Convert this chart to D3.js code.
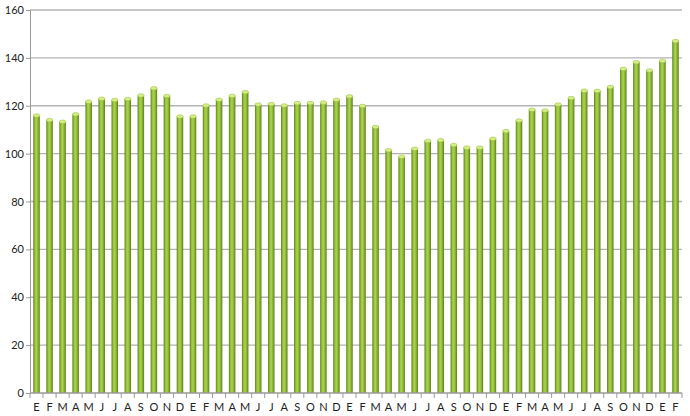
<!DOCTYPE html>
<html><head><meta charset="utf-8">
<script src="https://cdn.jsdelivr.net/npm/d3@7/dist/d3.min.js"></script>
<style>body{margin:0;background:#fff}svg{display:block}</style>
</head><body><svg id="c" width="690" height="416"></svg>
<script>
const months = ["E","F","M","A","M","J","J","A","S","O","N","D","E","F","M","A","M","J","J","A","S","O","N","D","E","F","M","A","M","J","J","A","S","O","N","D","E","F","M","A","M","J","J","A","S","O","N","D","E","F"];
const values = [115.9,114.0,113.3,116.4,121.7,122.9,122.4,122.8,124.3,127.3,124.1,115.5,115.5,120.1,122.5,124.1,125.7,120.5,120.7,120.1,121.1,121.1,121.3,122.5,123.9,119.9,111.1,101.4,98.7,102.0,105.3,105.6,103.6,102.5,102.5,106.2,109.4,113.8,118.3,118.0,120.5,123.2,126.3,126.2,127.8,135.4,138.2,134.7,138.7,147.0];
const yTicks = [0,20,40,60,80,100,120,140,160];

const svg = d3.select("#c");
const m = {l:30, r:8, t:10, b:23};
const W = 690, H = 416;
const x = d3.scaleBand().domain(d3.range(values.length)).range([m.l, W - m.r]).paddingInner(0.5).paddingOuter(0.25);
const y = d3.scaleLinear().domain([0,160]).range([H - m.b, m.t]);

const defs = svg.append("defs");
const g = defs.append("linearGradient").attr("id","bar").attr("x1","0").attr("x2","1").attr("y1","0").attr("y2","0");
[[0,"#5e8219"],[0.3,"#9cc640"],[0.5,"#a9d24d"],[0.75,"#86b031"],[1,"#5a7d18"]].forEach(s=>g.append("stop").attr("offset",s[0]).attr("stop-color",s[1]));

// gridlines
svg.append("g").selectAll("line").data(yTicks.slice(1)).join("line")
  .attr("x1", m.l).attr("x2", W - m.r).attr("y1", d=>y(d)).attr("y2", d=>y(d))
  .attr("stroke","#b3b3b3").attr("stroke-width",1.3);

// y axis
const ya = svg.append("g").attr("transform",`translate(${m.l},0)`).call(d3.axisLeft(y).tickValues(yTicks).tickSize(4).tickPadding(2));
ya.select(".domain").attr("stroke","#9a9a9a");
ya.selectAll(".tick line").attr("stroke","#9a9a9a");
ya.selectAll("text").attr("font-family","Lato, 'Open Sans', sans-serif").attr("font-size",11).attr("fill","#222");

// bars
const bw = x.bandwidth();
svg.append("g").selectAll("rect").data(values).join("rect")
  .attr("x",(d,i)=>x(i)).attr("width",bw)
  .attr("y",d=>y(d)).attr("height",d=>y(0)-y(d))
  .attr("fill","url(#bar)");
svg.append("g").selectAll("ellipse").data(values).join("ellipse")
  .attr("cx",(d,i)=>x(i)+bw/2).attr("cy",d=>y(d)).attr("rx",bw/2).attr("ry",1.8)
  .attr("fill","#d6ee82").attr("stroke","#8fb83a").attr("stroke-width",0.5);

// x axis
const xs = d3.scaleBand().domain(d3.range(values.length)).range([m.l, W - m.r]);
const xa = svg.append("g").attr("transform",`translate(0,${y(0)})`);
xa.append("line").attr("x1",m.l).attr("x2",W-m.r).attr("stroke","#9a9a9a").attr("stroke-width",1.3);
xa.selectAll("line.tk").data(d3.range(values.length+1)).join("line").attr("class","tk")
  .attr("x1",i=>m.l + i*xs.step()).attr("x2",i=>m.l + i*xs.step()).attr("y1",0).attr("y2",5).attr("stroke","#9a9a9a");
xa.selectAll("text").data(months).join("text")
  .attr("x",(d,i)=>xs(i)+xs.bandwidth()/2).attr("y",18).attr("text-anchor","middle")
  .attr("font-family","Lato, 'Open Sans', sans-serif").attr("font-size",11).attr("fill","#222").text(d=>d);
</script></body></html>
